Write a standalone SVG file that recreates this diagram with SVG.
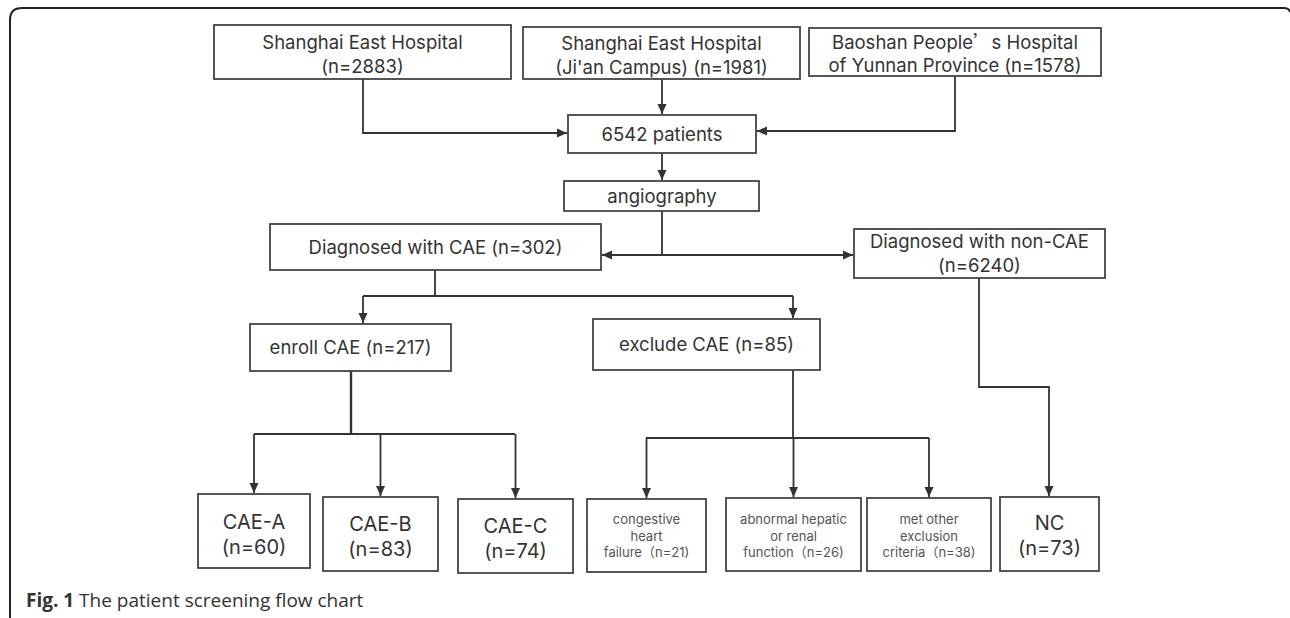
<svg xmlns="http://www.w3.org/2000/svg" width="1290" height="618" viewBox="0 0 1290 618">
<defs>
<marker id="ah" markerUnits="userSpaceOnUse" markerWidth="10" markerHeight="10" refX="10" refY="5" orient="auto">
<path d="M0,0.5 L10,5 L0,9.5 z" fill="#333"/>
</marker>
<style>
.box{fill:#fff;stroke:#444;stroke-width:1.8}
.t{font-family:Inter,"Noto Sans",sans-serif;font-size:18.5px;fill:#333;text-anchor:middle}
.s{font-family:Inter,"Noto Sans",sans-serif;font-size:13px;fill:#555;text-anchor:middle}
.b{font-family:Inter,"Noto Sans",sans-serif;font-size:20px;fill:#333;text-anchor:middle}
.cjk{font-family:"Noto Sans CJK SC",sans-serif}
.c{fill:none;stroke:#333;stroke-width:1.8}
.ca{fill:none;stroke:#333;stroke-width:1.8;marker-end:url(#ah)}
</style>
</defs>
<rect width="1290" height="618" fill="#fff"/>
<path d="M10,618 L10,20 Q10,8 22,8 L1284,8 Q1289,8 1290,12" fill="none" stroke="#222" stroke-width="2"/>

<g id="connectors">
<path class="ca" d="M363,79 V133 H567"/>
<path class="ca" d="M662,79 V114"/>
<path class="ca" d="M955,76 V131 H757"/>
<path class="ca" d="M662,153 V180"/>
<path class="c" d="M662,211 V255"/>
<path class="ca" d="M662,255 H602"/>
<path class="ca" d="M662,255 H853"/>
<path class="c" d="M435,270 V296"/>
<path class="c" d="M363,296 H793"/>
<path class="ca" d="M363,296 V323"/>
<path class="ca" d="M793,296 V318"/>
<path class="c" d="M351,371 V434" style="stroke-width:2.4"/>
<path class="c" d="M254,434 H515"/>
<path class="ca" d="M254,434 V493"/>
<path class="ca" d="M380.5,434 V496"/>
<path class="ca" d="M515.5,434 V498"/>
<path class="c" d="M793,370 V438"/>
<path class="c" d="M646,438 H929"/>
<path class="ca" d="M646.5,438 V498"/>
<path class="ca" d="M793.5,438 V497"/>
<path class="ca" d="M929,438 V497"/>
<path class="ca" d="M979,278 V387 H1049 V496"/>
</g>

<g id="n_seh">
<rect class="box" x="214" y="25" width="297" height="54"/>
<text class="t" x="362.5" y="49">Shanghai East Hospital</text>
<text class="t" x="362.5" y="72.5">(n=2883)</text>
</g>
<g id="n_jian">
<rect class="box" x="523" y="27" width="277" height="52"/>
<text class="t" x="661.5" y="50">Shanghai East Hospital</text>
<text class="t" x="661.5" y="73.5">(Ji'an Campus) (n=1981)</text>
</g>
<g id="n_baoshan">
<rect class="box" x="809" y="28" width="292" height="48"/>
<text class="t" x="955" y="48.5">Baoshan People<tspan class="cjk">’</tspan>s Hospital</text>
<text class="t" x="955" y="71.5">of Yunnan Province (n=1578)</text>
</g>
<g id="n_6542">
<rect class="box" x="568" y="115" width="188" height="38"/>
<text class="t" x="662" y="140.5">6542 patients</text>
</g>
<g id="n_angio">
<rect class="box" x="564" y="181" width="195" height="30"/>
<text class="t" x="662" y="202.5">angiography</text>
</g>
<g id="n_cae">
<rect class="box" x="270" y="224" width="331" height="46"/>
<text class="t" x="435.5" y="253.5">Diagnosed with CAE (n=302)</text>
</g>
<g id="n_noncae">
<rect class="box" x="854" y="229" width="251" height="49"/>
<text class="t" x="979.5" y="248">Diagnosed with non-CAE</text>
<text class="t" x="979.5" y="272">(n=6240)</text>
</g>
<g id="n_enroll">
<rect class="box" x="250" y="324" width="201" height="47"/>
<text class="t" x="350.5" y="354">enroll CAE (n=217)</text>
</g>
<g id="n_exclude">
<rect class="box" x="593" y="319" width="227" height="51"/>
<text class="t" x="706.5" y="351">exclude CAE (n=85)</text>
</g>
<g id="n_caea">
<rect class="box" x="198" y="494" width="112" height="74"/>
<text class="b" x="254" y="529">CAE-A</text>
<text class="b" x="254" y="554">(n=60)</text>
</g>
<g id="n_caeb">
<rect class="box" x="323" y="497" width="115" height="74"/>
<text class="b" x="380.5" y="531">CAE-B</text>
<text class="b" x="380.5" y="556">(n=83)</text>
</g>
<g id="n_caec">
<rect class="box" x="458" y="499" width="115" height="74"/>
<text class="b" x="515.5" y="533">CAE-C</text>
<text class="b" x="515.5" y="558">(n=74)</text>
</g>
<g id="n_chf">
<rect class="box" x="587" y="499" width="119" height="73"/>
<text class="s" x="646.5" y="524">congestive</text>
<text class="s" x="646.5" y="540.5">heart</text>
<text class="s" x="646.5" y="557">failure<tspan class="cjk">（</tspan>n=21)</text>
</g>
<g id="n_renal">
<rect class="box" x="726" y="498" width="135" height="73"/>
<text class="s" x="793.5" y="524">abnormal hepatic</text>
<text class="s" x="793.5" y="540.5">or renal</text>
<text class="s" x="793.5" y="557">function<tspan class="cjk">（</tspan>n=26)</text>
</g>
<g id="n_other">
<rect class="box" x="867" y="498" width="124" height="73"/>
<text class="s" x="929" y="524">met other</text>
<text class="s" x="929" y="540.5">exclusion</text>
<text class="s" x="929" y="557">criteria<tspan class="cjk">（</tspan>n=38)</text>
</g>
<g id="n_nc">
<rect class="box" x="1000" y="497" width="99" height="74"/>
<text class="b" x="1049.5" y="530">NC</text>
<text class="b" x="1049.5" y="555">(n=73)</text>
</g>
<text x="26" y="607" font-family="'Open Sans','Noto Sans',sans-serif" font-size="19" fill="#333"><tspan font-weight="bold">Fig. 1</tspan> The patient screening flow chart</text>
</svg>
